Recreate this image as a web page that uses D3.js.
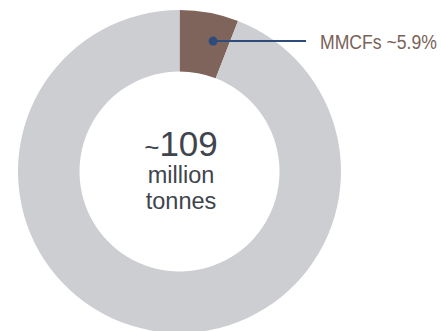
<!DOCTYPE html>
<html><head><meta charset="utf-8">
<script src="https://cdn.jsdelivr.net/npm/d3@7"></script>
<style>html,body{margin:0;padding:0;background:#fff;}svg{display:block;}</style>
</head><body>
<svg id="c" width="441" height="331"></svg>
<script>
const categories = ["MMCFs", "Other"];
const values = [5.9, 94.1];
const colors = ["#7f645b", "#cdced2"];
const labelText = "MMCFs ~5.9%";
const centerLines = ["~", "109", "million", "tonnes"];

const svg = d3.select("#c");
const cx = 179.5, cy = 171.5, rOuter = 161.5, rInner = 100;
const g = svg.append("g").attr("transform", `translate(${cx},${cy})`);
const pie = d3.pie().sort(null).value(d => d.v).startAngle(0).endAngle(2*Math.PI);
const data = pie(categories.map((c,i)=>({c, v: values[i]})));
const arc = d3.arc().innerRadius(rInner).outerRadius(rOuter);
g.selectAll("path").data(data).join("path")
  .attr("d", arc).attr("fill", (d,i)=>colors[i]);

// leader
const a0 = data[0];
const ang = a0.startAngle + (a0.endAngle - a0.startAngle)*0.68;
const px = Math.sin(ang)*134.7, py = -Math.cos(ang)*134.7;
g.append("line").attr("x1", px).attr("y1", py).attr("x2", 306-cx).attr("y2", py)
  .attr("stroke", "#2d4b7b").attr("stroke-width", 2);
g.append("circle").attr("cx", px).attr("cy", py).attr("r", 4.5).attr("fill", "#2d4b7b");
const lbl = g.append("text")
  .attr("font-family", "'Liberation Sans',Arial,sans-serif")
  .attr("font-size", 21).attr("fill", "#7a6259")
  .text(labelText);
const natW = lbl.node().getComputedTextLength();
const sx = 117 / natW;
lbl.attr("transform", `translate(${320-cx},${py + 7.5}) scale(${sx},1)`);

// center text
const t = g.append("text").attr("text-anchor", "middle")
  .attr("font-family", "'Liberation Sans',Arial,sans-serif").attr("fill", "#40444c");
const t1 = t.append("tspan").attr("x", 1.5).attr("y", 156-cy);
t1.append("tspan").attr("font-size", 26).text(centerLines[0]);
t1.append("tspan").attr("font-size", 35).text(centerLines[1]);
g.append("text").attr("text-anchor","middle").attr("x", 1.5).attr("y", 183-cy)
  .attr("font-family", "'Liberation Sans',Arial,sans-serif").attr("font-size", 23.5)
  .attr("fill", "#40444c").text(centerLines[2]);
g.append("text").attr("text-anchor","middle").attr("x", 1.5).attr("y", 209-cy)
  .attr("font-family", "'Liberation Sans',Arial,sans-serif").attr("font-size", 23.5)
  .attr("fill", "#40444c").text(centerLines[3]);
</script>
</body></html>
